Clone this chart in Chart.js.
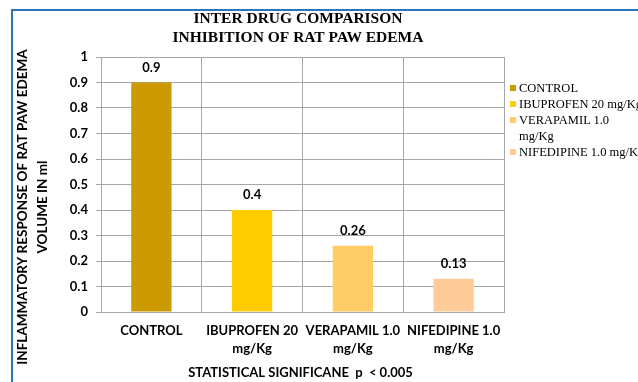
<!DOCTYPE html>
<html>
<head>
<meta charset="utf-8">
<script src="https://cdn.jsdelivr.net/npm/chart.js@4.4.1/dist/chart.umd.min.js"></script>
<style>
  html, body { margin: 0; padding: 0; background: #fff; overflow: hidden; }
  #wrap { position: relative; width: 638px; height: 382px; overflow: hidden; }
  #frame { position: absolute; left: 11px; top: 9px; width: 700px; height: 400px;
           border-left: 2px solid #2E75B6; border-top: 2px solid #2E75B6; pointer-events: none; }
  #legend { position: absolute; left: 510px; top: 80px; font-family: "Liberation Serif", "Times New Roman", serif;
            font-size: 12.5px; color: #000; white-space: nowrap; line-height: 16px; }
  #legend .item { position: relative; padding-left: 9px; }
  #legend .sw { position: absolute; left: 0; top: 5px; width: 6px; height: 6px; }
</style>
</head>
<body>
<div id="wrap">
  <canvas id="c" width="638" height="382"></canvas>
  <div id="frame"></div>
  <div id="legend"></div>
</div>
<script>
const categories = [["CONTROL"], ["IBUPROFEN 20", "mg/Kg"], ["VERAPAMIL 1.0", "mg/Kg"], ["NIFEDIPINE 1.0", "mg/Kg"]];
const legendLabels = [["CONTROL"], ["IBUPROFEN 20 mg/Kg"], ["VERAPAMIL 1.0", "mg/Kg"], ["NIFEDIPINE 1.0 mg/Kg"]];
const values = [0.9, 0.4, 0.26, 0.13];
const barColors = ["#CC9900", "#FFCC00", "#FFCC66", "#FFCC99"];
const yTicks = [0, 0.1, 0.2, 0.3, 0.4, 0.5, 0.6, 0.7, 0.8, 0.9, 1];
const titleLines = ["INTER DRUG COMPARISON", "INHIBITION OF RAT PAW EDEMA"];
const yTitleLines = ["INFLAMMATORY RESPONSE OF RAT PAW EDEMA", "VOLUME IN ml"];
const xTitle = "STATISTICAL SIGNIFICANE  p  < 0.005";

const sans = "Lato, 'Open Sans', sans-serif";

// HTML legend
const lg = document.getElementById('legend');
legendLabels.forEach((lines, i) => {
  const d = document.createElement('div');
  d.className = 'item';
  d.innerHTML = '<span class="sw" style="background:' + barColors[i] + '"></span>' + lines.join('<br>');
  lg.appendChild(d);
});

const textPlugin = {
  id: 'texts',
  afterDraw(chart) {
    const ctx = chart.ctx;
    const ca = chart.chartArea;
    ctx.save();
    ctx.fillStyle = '#000';
    ctx.textAlign = 'center';
    ctx.textBaseline = 'middle';
    // main title
    ctx.font = "bold 15.5px 'Liberation Serif', 'Times New Roman', serif";
    ctx.fillText(titleLines[0], 298, 19);
    ctx.fillText(titleLines[1], 298, 38);
    // y title
    ctx.font = "bold 13.5px " + sans;
    ctx.save();
    ctx.translate(23, 207);
    ctx.rotate(-Math.PI / 2);
    ctx.fillText(yTitleLines[0], 0, 0);
    ctx.restore();
    ctx.save();
    ctx.translate(43, 207);
    ctx.rotate(-Math.PI / 2);
    ctx.fillText(yTitleLines[1], 0, 0);
    ctx.restore();
    // x title
    ctx.font = "bold 13px " + sans;
    ctx.fillText(xTitle, (ca.left + ca.right) / 2 - 2, 373);
    // data labels
    ctx.font = "bold 13px " + sans;
    const meta = chart.getDatasetMeta(0);
    meta.data.forEach((bar, i) => {
      ctx.fillText(String(values[i]), bar.x, bar.y - 15);
    });
    ctx.restore();
  }
};

new Chart(document.getElementById('c'), {
  type: 'bar',
  data: {
    labels: categories,
    datasets: [{
      data: values,
      backgroundColor: barColors,
      borderWidth: 0,
      categoryPercentage: 1.0,
      barPercentage: 0.4
    }]
  },
  options: {
    responsive: false,
    animation: false,
    events: [],
    layout: { padding: { left: 0, right: 134, top: 57, bottom: 0 } },
    plugins: { legend: { display: false }, title: { display: false }, tooltip: { enabled: false } },
    scales: {
      x: {
        grid: { display: true, offset: true, color: '#A6A6A6', lineWidth: 1, drawTicks: false },
        border: { display: true, color: '#A6A6A6' },
        ticks: { color: '#000', font: { family: sans, weight: 'bold', size: 13, lineHeight: 1.4 }, padding: 10, maxRotation: 0, autoSkip: false },
        afterFit(s) { s.height = 382 - 57 - 255; }
      },
      y: {
        min: 0, max: 1,
        afterBuildTicks(s) { s.ticks = yTicks.map(v => ({ value: v })); },
        grid: { color: '#A6A6A6', lineWidth: 1, tickLength: 5 },
        border: { display: true, color: '#A6A6A6' },
        ticks: { color: '#000', font: { family: sans, weight: 'bold', size: 13 }, padding: 8,
                 callback: v => String(v) },
        afterFit(s) { s.width = 101; }
      }
    }
  },
  plugins: [textPlugin]
});
</script>
</body>
</html>
